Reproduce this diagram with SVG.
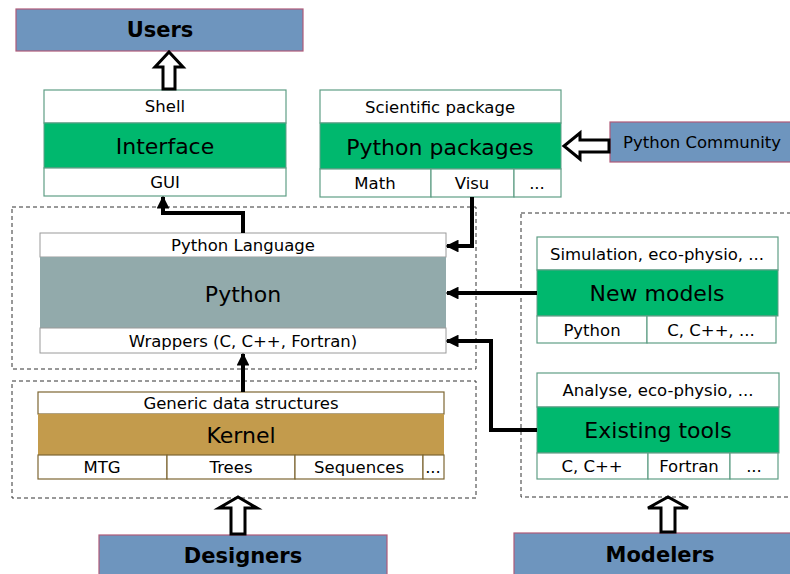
<svg xmlns="http://www.w3.org/2000/svg" width="790" height="574" viewBox="0 0 790 574">
<defs>
<style>
text{font-family:"DejaVu Sans","Liberation Sans",sans-serif;fill:#000;text-anchor:middle;dominant-baseline:central}
.sm{font-size:16.5px}
.big{font-size:22px}
.actor{font-size:21px;font-weight:bold}
.cell{fill:#fff;stroke:#5f9e85;stroke-width:1.2}
.grn{fill:#00b86e;stroke:#5f9e85;stroke-width:1}
.kcell{fill:#fff;stroke:#7d6633;stroke-width:1.2}
.kern{fill:#c39b4c}
.pcell{fill:#fff;stroke:#9a9a9a;stroke-width:1}
.py{fill:#92aaab}
.act{fill:#6e95be;stroke:#b05a78;stroke-width:1.2}
.dash{fill:none;stroke:#333;stroke-width:1;stroke-dasharray:4,3}
.con{fill:none;stroke:#000;stroke-width:4}
.hol{fill:#fff;stroke:#000;stroke-width:3;stroke-linejoin:miter}
</style>
<marker id="ah" viewBox="0 0 10 10" refX="9" refY="5" markerWidth="3.2" markerHeight="3.2" orient="auto" markerUnits="strokeWidth">
<path d="M0,0 L10,5 L0,10 z" fill="#000"/>
</marker>
</defs>

<g id="dashed-frames">
<rect class="dash" x="12" y="207" width="464" height="162"/>
<rect class="dash" x="12" y="381" width="464" height="117"/>
<rect class="dash" x="521" y="213" width="275" height="284"/>
</g>

<g id="users">
<rect class="act" x="16" y="9" width="287" height="42"/>
<text class="actor" x="160" y="30">Users</text>
</g>

<g id="interface">
<rect class="cell" x="44" y="90" width="242" height="33"/>
<text class="sm" x="165" y="106">Shell</text>
<rect class="grn" x="44" y="123" width="242" height="45"/>
<text class="big" x="165" y="146">Interface</text>
<rect class="cell" x="44" y="168" width="242" height="28"/>
<text class="sm" x="165" y="182">GUI</text>
</g>

<g id="python-packages">
<rect class="cell" x="320" y="90" width="241" height="33"/>
<text class="sm" x="440" y="107">Scientific package</text>
<rect class="grn" x="320" y="123" width="241" height="46"/>
<text class="big" x="440" y="147">Python packages</text>
<rect class="cell" x="320" y="169" width="111" height="28"/>
<text class="sm" x="375" y="183">Math</text>
<rect class="cell" x="431" y="169" width="83" height="28"/>
<text class="sm" x="472" y="183">Visu</text>
<rect class="cell" x="514" y="169" width="47" height="28"/>
<text class="sm" x="537" y="183">...</text>
</g>

<g id="python-community">
<rect class="act" x="610" y="122" width="185" height="40"/>
<text class="sm" x="702" y="142">Python Community</text>
</g>

<g id="python">
<rect class="pcell" x="40" y="233" width="406" height="24"/>
<text class="sm" x="243" y="245">Python Language</text>
<rect class="py" x="40" y="257" width="406" height="71"/>
<text class="big" x="243" y="294">Python</text>
<rect class="pcell" x="40" y="328" width="406" height="25"/>
<text class="sm" x="243" y="341">Wrappers (C, C++, Fortran)</text>
</g>

<g id="kernel">
<rect class="kcell" x="38" y="392" width="406" height="22"/>
<text class="sm" x="241" y="403">Generic data structures</text>
<rect class="kern" x="38" y="414" width="406" height="41"/>
<text class="big" x="241" y="435">Kernel</text>
<rect class="kcell" x="38" y="455" width="129" height="24"/>
<text class="sm" x="102" y="467">MTG</text>
<rect class="kcell" x="167" y="455" width="128" height="24"/>
<text class="sm" x="231" y="467">Trees</text>
<rect class="kcell" x="295" y="455" width="128" height="24"/>
<text class="sm" x="359" y="467">Sequences</text>
<rect class="kcell" x="423" y="455" width="21" height="24"/>
<text class="sm" x="433" y="467">...</text>
</g>

<g id="new-models">
<rect class="cell" x="537" y="237" width="241" height="33"/>
<text class="sm" x="657" y="254">Simulation, eco-physio, ...</text>
<rect class="grn" x="537" y="270" width="241" height="46"/>
<text class="big" x="657" y="293">New models</text>
<rect class="cell" x="537" y="316" width="110" height="27"/>
<text class="sm" x="592" y="330">Python</text>
<rect class="cell" x="647" y="316" width="129" height="27"/>
<text class="sm" x="711" y="330">C, C++, ...</text>
</g>

<g id="existing-tools">
<rect class="cell" x="537" y="373" width="242" height="34"/>
<text class="sm" x="658" y="390">Analyse, eco-physio, ...</text>
<rect class="grn" x="537" y="407" width="242" height="46"/>
<text class="big" x="658" y="430">Existing tools</text>
<rect class="cell" x="537" y="453" width="111" height="26"/>
<text class="sm" x="592" y="466">C, C++</text>
<rect class="cell" x="648" y="453" width="82" height="26"/>
<text class="sm" x="689" y="466">Fortran</text>
<rect class="cell" x="730" y="453" width="48" height="26"/>
<text class="sm" x="754" y="466">...</text>
</g>

<g id="designers">
<rect class="act" x="99" y="535" width="288" height="45"/>
<text class="actor" x="243" y="556">Designers</text>
</g>

<g id="modelers">
<rect class="act" x="514" y="533" width="282" height="47"/>
<text class="actor" x="660" y="555">Modelers</text>
</g>

<g id="connectors">
<path class="con" d="M243,233 V213 H163 V197" marker-end="url(#ah)"/>
<path class="con" d="M472,197 V246 H447" marker-end="url(#ah)"/>
<path class="con" d="M537,293 H447" marker-end="url(#ah)"/>
<path class="con" d="M537,430 H491 V341 H447" marker-end="url(#ah)"/>
<path class="con" d="M243,392 V354" marker-end="url(#ah)"/>
<path class="hol" d="M163,89 V67 H155 L169,52 L183,67 H175 V89 Z"/>
<path class="hol" d="M609,140 H580 V133 L564,146 L580,159 V152 H609 Z"/>
<path class="hol" d="M231,534 V508 H219 L238,497 L257,508 H245 V534 Z"/>
<path class="hol" d="M661,532 V508 H648 L668,497 L688,508 H675 V532 Z"/>
</g>
</svg>
